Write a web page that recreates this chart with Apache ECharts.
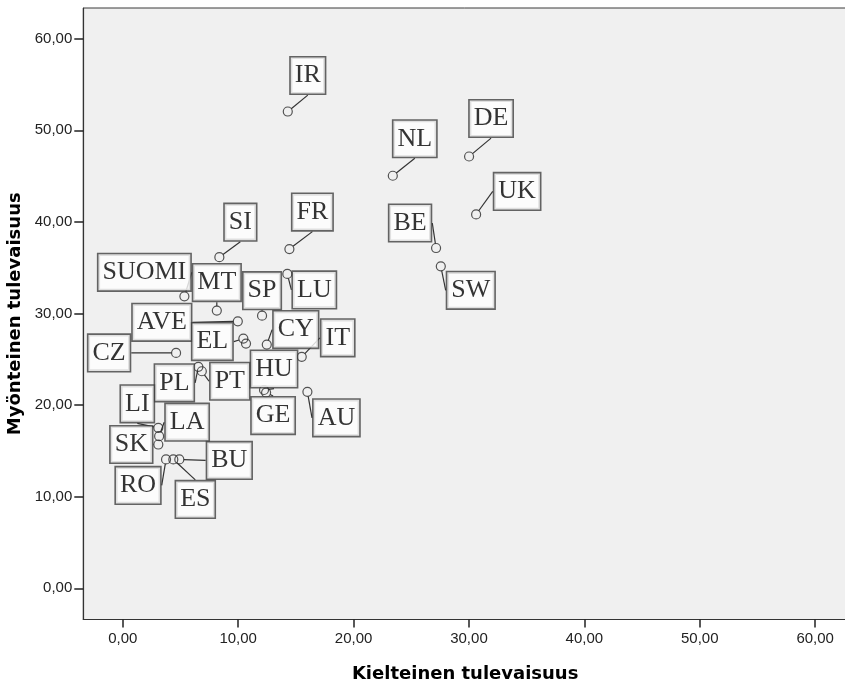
<!DOCTYPE html>
<html>
<head>
<meta charset="utf-8">
<script src="https://cdn.jsdelivr.net/npm/echarts@6/dist/echarts.min.js"></script>
<style>html,body{margin:0;padding:0;background:#fff}#c{width:845px;height:684px}</style>
</head>
<body>
<div id="c"></div>
<script>
// Country codes (empty string = unlabeled point)
const countries = ['IR','NL','DE','UK','BE','SW','SI','FR','LU','SUOMI','MT','SP','AVE','EL','','CY','IT','CZ','PL','PT','HU','GE','AU','LI','LA','SK','RO','ES','BU'];
// Kielteinen tulevaisuus (x)
const negativeFuture = [14.30,23.40,30.01,30.62,27.15,27.56,8.37,14.44,14.26,5.34,8.15,12.07,9.97,10.45,10.68,12.48,15.51,4.62,6.55,6.85,12.24,12.42,16.00,3.08,3.15,3.08,3.75,4.38,4.90];
// Myönteinen tulevaisuus (y)
const positiveFuture = [52.05,45.04,47.14,40.82,37.15,35.15,36.15,37.04,34.32,31.88,30.32,29.77,29.15,27.26,26.72,26.61,25.27,25.70,24.18,23.70,21.65,21.37,21.45,17.52,16.61,15.70,14.07,14.07,14.07];
const xTicks = [0,10,20,30,40,50,60];
const yTicks = [0,10,20,30,40,50,60];
// label box placement relative to its point (pixels)
const labelOffsets = [[20,-36],[22,-37],[22,-38],[41,-23],[-26,-25],[30,24],[21,-35],[23,-37],[27,16],[-40,-24],[0,-28],[0,-25],[-76,1],[-31,3],[0,0],[29,-15],[36,-19],[-67,0],[-24,16],[28,10],[10,-21],[7,23],[29,26],[-21,-24],[28,-14],[-27,0],[-28,26],[22,40],[50,1]];

const fmt = v => v.toFixed(2).replace('.', ',');
const data = countries.map((c, i) => {
  const d = {name: c, value: [negativeFuture[i], positiveFuture[i]]};
  if (!c) d.label = {show: false};
  return d;
});

const chart = echarts.init(document.getElementById('c'), null, {renderer: 'canvas'});
chart.setOption({
  animation: false,
  backgroundColor: '#ffffff',
  grid: {left: 83.3, right: -2, top: 8, bottom: 64.5, show: true, outerBoundsMode: 'none', containLabel: false,
         backgroundColor: '#f0f0f0', borderColor: '#3a3a3a', borderWidth: 1},
  xAxis: {
    type: 'value', min: -3.42, max: 62.76,
    splitLine: {show: false},
    axisLine: {show: true, onZero: false, lineStyle: {color: '#333', width: 1.2}},
    axisTick: {show: true, customValues: xTicks, length: 8, lineStyle: {color: '#222', width: 1.5}},
    axisLabel: {customValues: xTicks, formatter: fmt, color: '#222', fontFamily: 'Liberation Sans', fontSize: 15, margin: 12},
    name: 'Kielteinen tulevaisuus', nameLocation: 'middle', nameGap: 46,
    nameTextStyle: {fontFamily: 'DejaVu Sans', fontWeight: 'bold', fontSize: 18, color: '#000'}
  },
  yAxis: {
    type: 'value', min: -3.4, max: 63.35,
    splitLine: {show: false},
    axisLine: {show: true, onZero: false, lineStyle: {color: '#333', width: 1.2}},
    axisTick: {show: true, customValues: yTicks, length: 9, lineStyle: {color: '#222', width: 1.5}},
    axisLabel: {customValues: yTicks, formatter: fmt, color: '#222', fontFamily: 'Liberation Sans', fontSize: 15, margin: 11},
    name: 'Myönteinen tulevaisuus', nameLocation: 'middle', nameGap: 53, nameRotate: 90,
    nameTextStyle: {fontFamily: 'DejaVu Sans', fontWeight: 'bold', fontSize: 18, color: '#000'}
  },
  series: [{
    type: 'scatter',
    data: data,
    symbol: 'circle',
    symbolSize: 9,
    itemStyle: {color: 'rgba(0,0,0,0)', borderColor: '#2a2a2a', borderWidth: 1.2},
    emphasis: {disabled: true},
    label: {
      show: true, position: 'inside', formatter: p => p.name,
      fontFamily: 'Liberation Serif', fontSize: 26, lineHeight: 26, color: '#000',
      backgroundColor: '#ffffff', borderColor: '#404040', borderWidth: 1.6, padding: [5, 4, 5, 4]
    },
    labelLine: {show: true, lineStyle: {color: '#333', width: 1.2}},
    labelLayout: p => {
      const o = labelOffsets[p.dataIndex];
      return {dx: o[0], dy: o[1]};
    }
  }]
});
</script>
</body>
</html>
